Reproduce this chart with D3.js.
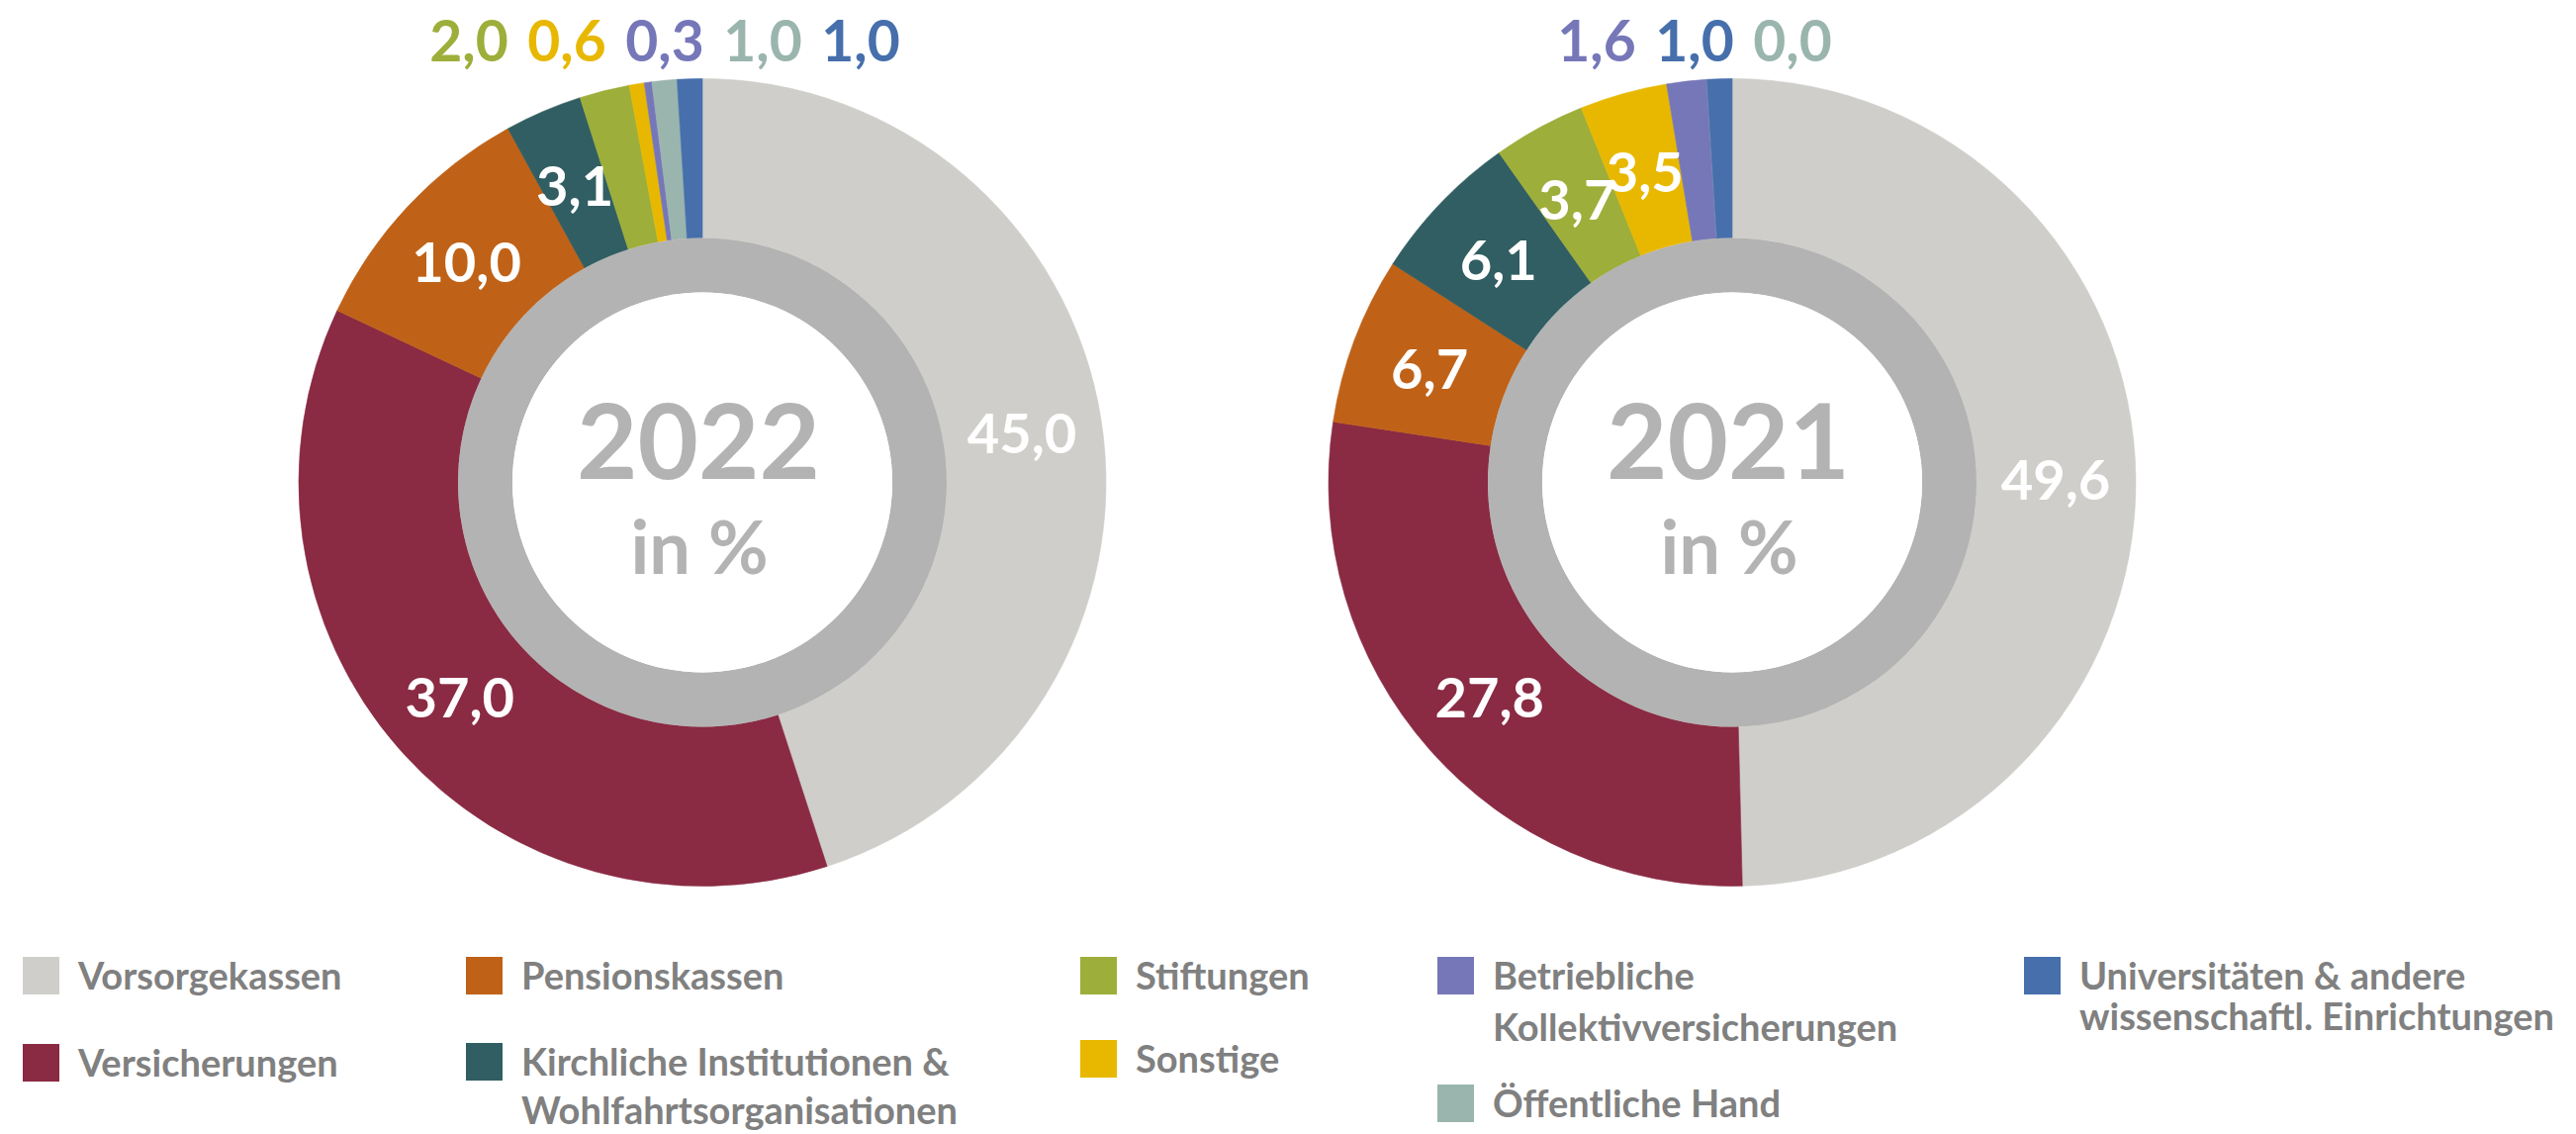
<!DOCTYPE html>
<html>
<head>
<meta charset="utf-8">
<script src="https://cdn.jsdelivr.net/npm/d3@7"></script>
<style>
  html, body { margin: 0; padding: 0; background: #ffffff; }
  svg { display: block; }
  text { font-family: Lato, "Open Sans", sans-serif; }
</style>
</head>
<body>
<svg id="chart" width="2604" height="1146"></svg>
<script>
// ---------- DATA ----------
const categories = [
  "Vorsorgekassen",
  "Versicherungen",
  "Pensionskassen",
  "Kirchliche Institutionen & Wohlfahrtsorganisationen",
  "Stiftungen",
  "Sonstige",
  "Betriebliche Kollektivversicherungen",
  "Öffentliche Hand",
  "Universitäten & andere wissenschaftl. Einrichtungen"
];
const values2022 = [45.0, 37.0, 10.0, 3.1, 2.0, 0.6, 0.3, 1.0, 1.0];
const values2021 = [49.6, 27.8, 6.7, 6.1, 3.7, 3.5, 1.6, 0.0, 1.0];
const years = ["2022", "2021"];
const centerSubtitle = "in %";
const colors = ["#cfceca", "#8a2a43", "#bf6218", "#315e62", "#9eae3a", "#e8b800", "#7677b8", "#9ab5ae", "#466fac"];
const legendLines = [
  ["Vorsorgekassen"],
  ["Versicherungen"],
  ["Pensionskassen"],
  ["Kirchliche Institutionen &", "Wohlfahrtsorganisationen"],
  ["Stiftungen"],
  ["Sonstige"],
  ["Betriebliche", "Kollektivversicherungen"],
  ["Öffentliche Hand"],
  ["Universitäten & andere", "wissenschaftl. Einrichtungen"]
];

// ---------- LAYOUT ----------
const svg = d3.select("#chart");
const cy = 487.5;
const centersX = [710, 1751];
const rOuter = 408, rInner = 247, rRingIn = 192, rLabel = 327;
const outsideThreshold = 2.5;

const color = d3.scaleOrdinal().domain(categories).range(colors);
const de = d3.formatLocale({decimal: ",", thousands: ".", grouping: [3], currency: ["", " €"]});
const fmt = de.format(".1f");

const pie = d3.pie().sort(null).value(d => d.value).startAngle(0).endAngle(2 * Math.PI);
const arc = d3.arc().innerRadius(rInner).outerRadius(rOuter);
const labelArc = d3.arc().innerRadius(rLabel).outerRadius(rLabel);
const ringArc = d3.arc().innerRadius(rRingIn).outerRadius(rInner).startAngle(0).endAngle(2 * Math.PI);

[values2022, values2021].forEach((vals, k) => {
  const data = categories.map((c, i) => ({cat: c, value: vals[i], idx: i}));
  const g = svg.append("g").attr("transform", `translate(${centersX[k]},${cy})`);
  const arcs = pie(data);

  g.selectAll("path.slice").data(arcs).enter().append("path")
    .attr("class", "slice")
    .attr("d", arc)
    .attr("fill", d => color(d.data.cat))
    .attr("stroke", d => color(d.data.cat))
    .attr("stroke-width", 0.6);

  g.append("path").attr("d", ringArc()).attr("fill", "#b3b3b3");
  g.append("circle").attr("r", rRingIn).attr("fill", "#ffffff");

  // inner labels
  g.selectAll("text.inlabel").data(arcs.filter(d => d.data.value > outsideThreshold)).enter()
    .append("text").attr("class", "inlabel")
    .attr("transform", d => `translate(${labelArc.centroid(d)})`)
    .attr("text-anchor", "middle")
    .attr("dominant-baseline", "central")
    .attr("fill", "#ffffff")
    .attr("font-weight", 700)
    .attr("font-size", 56)
    .text(d => fmt(d.data.value));

  // outside labels (row on top)
  const outs = data.filter(d => d.value <= outsideThreshold);
  const ordered = outs.filter(d => d.value > 0).concat(outs.filter(d => d.value === 0));
  const n = ordered.length;
  const step = 99;
  g.selectAll("text.outlabel").data(ordered).enter()
    .append("text").attr("class", "outlabel")
    .attr("x", (d, i) => -38 + (i - (n - 1) / 2) * step)
    .attr("y", 62 - cy)
    .attr("text-anchor", "middle")
    .attr("fill", d => color(d.cat))
    .attr("font-weight", 700)
    .attr("font-size", 57)
    .text(d => fmt(d.value));

  // center text
  g.append("text").attr("x", -4).attr("y", 484 - cy)
    .attr("text-anchor", "middle").attr("fill", "#b3b3b3")
    .attr("font-weight", 700).attr("font-size", 106)
    .text(years[k]);
  g.append("text").attr("x", -3).attr("y", 580 - cy)
    .attr("text-anchor", "middle").attr("fill", "#b3b3b3")
    .attr("font-weight", 700).attr("font-size", 74)
    .text(centerSubtitle);
});

// ---------- LEGEND ----------
const legendPos = [
  {x: 23,   y: 967,  lh: 0},
  {x: 23,   y: 1055, lh: 0},
  {x: 471,  y: 967,  lh: 0},
  {x: 471,  y: 1054, lh: 49},
  {x: 1092, y: 967,  lh: 0},
  {x: 1092, y: 1051, lh: 0},
  {x: 1453, y: 967,  lh: 52},
  {x: 1453, y: 1096, lh: 0},
  {x: 2046, y: 967,  lh: 41}
];
const sq = 37;
const lg = svg.append("g");
categories.forEach((c, i) => {
  const p = legendPos[i];
  lg.append("rect").attr("x", p.x).attr("y", p.y).attr("width", sq).attr("height", sq + 1)
    .attr("fill", color(c));
  const t = lg.append("text").attr("fill", "#808080").attr("font-weight", 700).attr("font-size", 38);
  legendLines[i].forEach((line, j) => {
    t.append("tspan").attr("x", p.x + 56).attr("y", p.y + 33 + j * p.lh).text(line);
  });
});
</script>
</body>
</html>
